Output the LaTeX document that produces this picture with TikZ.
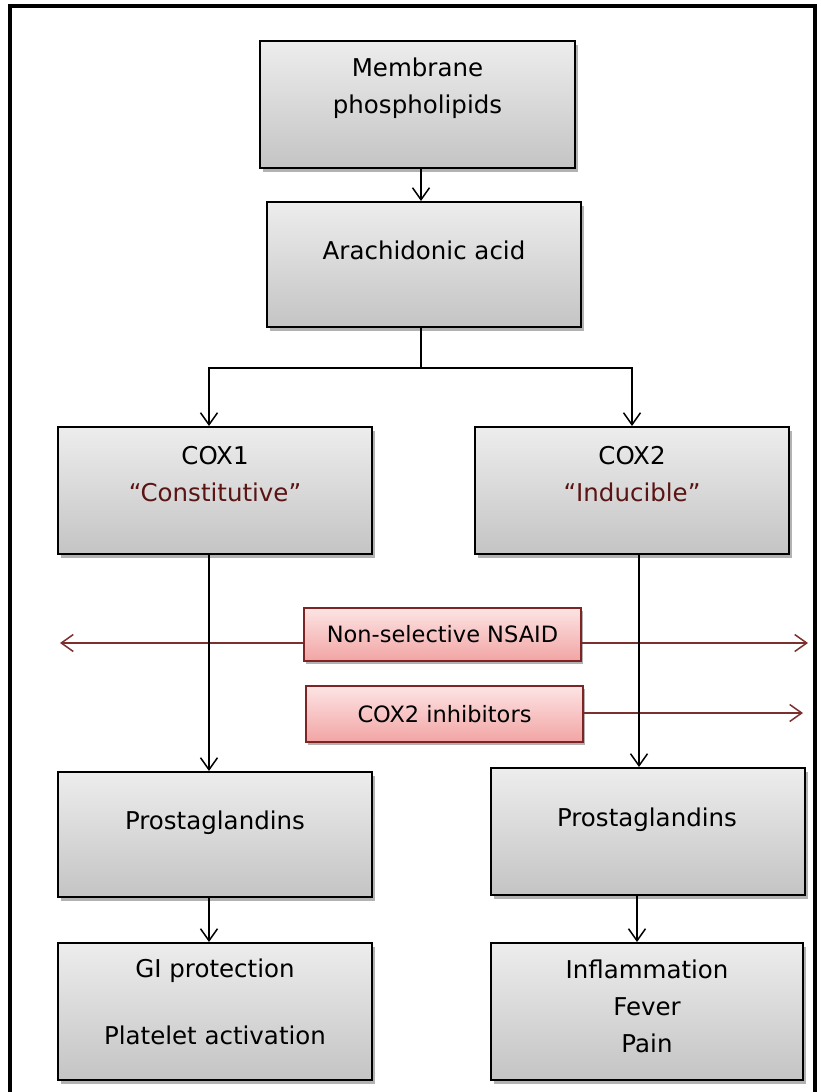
\documentclass[tikz,border=0pt]{standalone}
\usepackage{fontspec}
\setmainfont{DejaVu Sans}
\usetikzlibrary{arrows.meta,shadows}
\definecolor{boxtop}{HTML}{EDEDED}
\definecolor{boxbot}{HTML}{C4C4C4}
\definecolor{pinktop}{HTML}{FDE4E4}
\definecolor{pinkbot}{HTML}{F2A4A4}
\definecolor{pinkedge}{HTML}{7E2424}
\definecolor{redline}{HTML}{7B2F2F}
\definecolor{quotered}{HTML}{5A1414}
\tikzset{
  graybox/.style={draw=black, line width=2pt, rectangle, top color=boxtop, bottom color=boxbot,
    drop shadow={shadow xshift=3pt, shadow yshift=-4pt, fill=black, opacity=0.3}},
  pinkbox/.style={draw=pinkedge, line width=1.5pt, rectangle, top color=pinktop, bottom color=pinkbot,
    drop shadow={shadow xshift=2pt, shadow yshift=-3pt, fill=black, opacity=0.3},
    font=\fontsize{22.5}{27}\selectfont},
  txt/.style={align=center, font=\fontsize{24.5}{37}\selectfont, inner sep=0pt},
  arr/.style={draw=black, line width=1.5pt, -{Straight Barb[length=12pt,width=17pt,line width=1.5pt]}},
  redarr/.style={draw=redline, line width=1.5pt, -{Straight Barb[length=12pt,width=17pt,line width=1.5pt]}},
  plain/.style={draw=black, line width=1.5pt}
}
\begin{document}
\begin{tikzpicture}[x=1pt,y=-1pt]
\useasboundingbox (0,0) rectangle (820,1092);
\fill[white] (0,0) rectangle (820,1092);
\draw[line width=4pt] (10,6) rectangle (815,1110);

% boxes
\node[graybox, minimum width=315pt, minimum height=127pt] (mem) at (417.5,104.5) {};
\node[txt] (memt) at (417.5,88) {Membrane\\phospholipids};

\node[graybox, minimum width=314pt, minimum height=125pt] (ara) at (424,264.5) {};
\node[txt] (arat) at (424,250) {Arachidonic acid};

\node[graybox, minimum width=314pt, minimum height=127pt] (cox1) at (215,490.5) {};
\node[txt] (cox1t) at (215,474) {COX1\\\textcolor{quotered}{“Constitutive”}};

\node[graybox, minimum width=314pt, minimum height=127pt] (cox2) at (632,490.5) {};
\node[txt] (cox2t) at (632,474) {COX2\\\textcolor{quotered}{“Inducible”}};

\node[pinkbox, minimum width=277pt, minimum height=53pt] (nsaid) at (442.5,634.5) {Non-selective NSAID};
\node[pinkbox, minimum width=277pt, minimum height=56pt] (cox2i) at (444.5,714) {COX2 inhibitors};

\node[graybox, minimum width=314pt, minimum height=125pt] (pg1) at (215,834.5) {};
\node[txt] (pg1t) at (215,823) {Prostaglandins};

\node[graybox, minimum width=314pt, minimum height=127pt] (pg2) at (648,831.5) {};
\node[txt] (pg2t) at (647,820) {Prostaglandins};

\node[graybox, minimum width=314pt, minimum height=137pt] (out1) at (215,1011.5) {};
\node[txt, font=\fontsize{24.5}{67}\selectfont] (out1t) at (215,1001.5) {GI protection\\Platelet activation};

\node[graybox, minimum width=312pt, minimum height=137pt] (out2) at (647,1011.5) {};
\node[txt] (out2t) at (647,1006) {Inflammation\\Fever\\Pain};

% red inhibitor arrows
\coordinate (nl) at (60,643);
\coordinate (nr) at (808,643);
\coordinate (cr) at (803,713);
\draw[redarr] (nl -| nsaid.west) -- (nl);
\draw[redarr] (nl -| nsaid.east) -- (nr);
\draw[redarr] (cr -| cox2i.east) -- (cr);

% black connectors
\coordinate (br) at (421,368);
\draw[arr] (mem.south -| br) -- (ara.north -| br);
\draw[plain] (ara.south -| br) -- (br);
\draw[arr] (br) -| ([xshift=-6pt]cox1.north);
\draw[arr] (br) -| (cox2.north);
\draw[arr] ([xshift=-6pt]cox1.south) -- ([xshift=-6pt]pg1.north);
\draw[arr] ([xshift=7pt]cox2.south) -- ([xshift=7pt]cox2.south |- pg2.north);
\draw[arr] ([xshift=-6pt]pg1.south) -- ([xshift=-6pt]out1.north);
\draw[arr] ([xshift=-11pt]pg2.south) -- ([xshift=-11pt]pg2.south |- out2.north);
\end{tikzpicture}
\end{document}
